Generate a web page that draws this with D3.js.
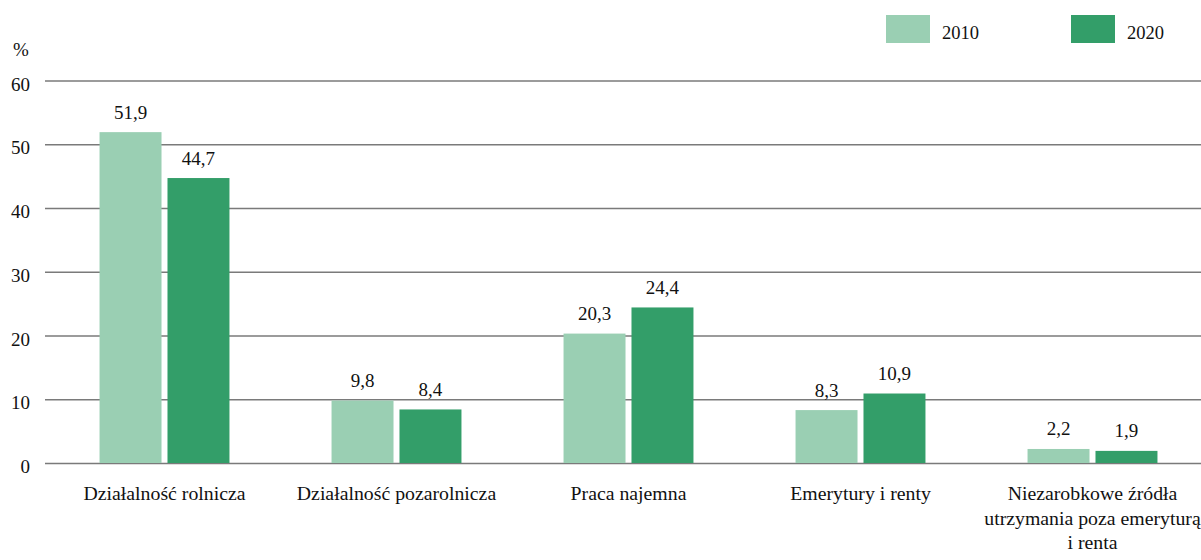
<!DOCTYPE html>
<html>
<head>
<meta charset="utf-8">
<script src="https://cdn.jsdelivr.net/npm/d3@7/dist/d3.min.js"></script>
<style>
  html, body { margin: 0; padding: 0; background: #fff; }
  svg text { font-family: "Liberation Serif", "Times New Roman", serif; }
</style>
</head>
<body>
<svg id="chart" width="1201" height="560"></svg>
<script>
// Źródła utrzymania gospodarstw domowych (%)
const categories = [
  ["Działalność rolnicza"],
  ["Działalność pozarolnicza"],
  ["Praca najemna"],
  ["Emerytury i renty"],
  ["Niezarobkowe źródła", "utrzymania poza emeryturą", "i renta"]
];
const series = ["2010", "2020"];
const values2010 = [51.9, 9.8, 20.3, 8.3, 2.2];
const values2020 = [44.7, 8.4, 24.4, 10.9, 1.9];
const yTicks = [0, 10, 20, 30, 40, 50, 60];
const colors = ["#9acfb3", "#339e69"];

const FONT = "Liberation Serif, Times New Roman, serif";
const svg = d3.select("#chart");
const W = 1201;
const plot = { left: 48.5, right: 1208.5, top: 80.5, bottom: 463 };

const x0 = d3.scaleBand()
  .domain(d3.range(categories.length))
  .range([plot.left, plot.right])
  .paddingInner(0.44)
  .paddingOuter(0.22);

const x1 = d3.scaleBand()
  .domain(series)
  .range([0, x0.bandwidth()])
  .paddingInner(0.088);

const y = d3.scaleLinear().domain([0, 60]).range([plot.bottom, plot.top]);

// gridlines and tick labels
const yAxis = d3.axisLeft(y).tickValues(yTicks).tickSize(-(W - 45)).tickPadding(15).tickFormat(d3.format("d"));
const ga = svg.append("g").attr("transform", `translate(45,0)`).call(yAxis)
  .attr("font-family", FONT).attr("font-size", 19);
ga.select(".domain").remove();
ga.selectAll(".tick line").attr("stroke", "#7a7a7a").attr("stroke-width", 1.3);
ga.selectAll(".tick text").attr("fill", "#111").attr("dy", "0.5em");

svg.append("text").attr("x", 13).attr("y", 56).attr("font-family", FONT)
  .attr("font-size", 19).attr("fill", "#111").text("%");

// bars
const data = categories.map((c, i) => ({ i, vals: [values2010[i], values2020[i]] }));
const groups = svg.append("g").selectAll("g").data(data).join("g")
  .attr("transform", d => `translate(${x0(d.i)},0)`);

groups.selectAll("rect").data(d => d.vals.map((v, k) => ({ v, k })))
  .join("rect")
  .attr("x", d => x1(series[d.k]))
  .attr("width", x1.bandwidth())
  .attr("y", d => y(d.v))
  .attr("height", d => y(0) - y(d.v))
  .attr("fill", d => colors[d.k]);

groups.selectAll("text.val").data(d => d.vals.map((v, k) => ({ v, k })))
  .join("text")
  .attr("class", "val")
  .attr("x", d => x1(series[d.k]) + x1.bandwidth() / 2)
  .attr("y", d => y(d.v) - 13.5)
  .attr("text-anchor", "middle")
  .attr("font-family", FONT)
  .attr("font-size", 19)
  .attr("fill", "#111")
  .text(d => d3.format(".1f")(d.v).replace(".", ","));

// category labels
const labels = svg.append("g").selectAll("text").data(categories).join("text")
  .attr("x", (d, i) => x0(i) + x0.bandwidth() / 2)
  .attr("y", 500)
  .attr("text-anchor", "middle")
  .attr("font-family", FONT)
  .attr("font-size", 19.8)
  .attr("fill", "#111");
labels.selectAll("tspan").data(d => d).join("tspan")
  .attr("x", function () { return this.parentNode.getAttribute("x"); })
  .attr("dy", (d, j) => j === 0 ? 0 : 24.5)
  .text(d => d);

// legend
const legendX = [886, 1071];
const lg = svg.append("g").selectAll("g").data(series).join("g")
  .attr("transform", (d, i) => `translate(${legendX[i]},15)`);
lg.append("rect").attr("width", 44).attr("height", 28).attr("fill", (d, i) => colors[i]);
lg.append("text").attr("x", 56).attr("y", 24).attr("font-family", FONT)
  .attr("font-size", 18.5).attr("fill", "#111").text(d => d);
</script>
</body>
</html>
